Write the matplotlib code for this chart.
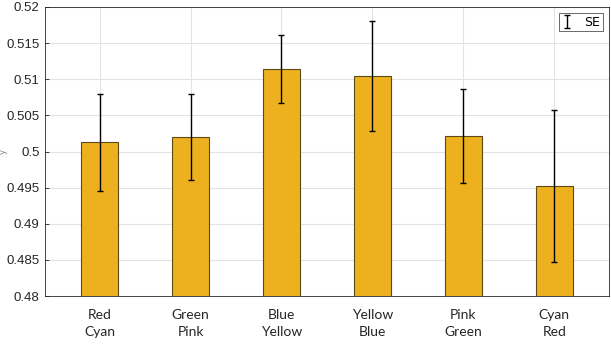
import matplotlib as mpl
mpl.use('Agg')
import matplotlib.pyplot as plt
import numpy as np

# data
labels = ['Red\nCyan', 'Green\nPink', 'Blue\nYellow', 'Yellow\nBlue', 'Pink\nGreen', 'Cyan\nRed']
means = [0.5013, 0.5020, 0.5114, 0.5104, 0.5022, 0.4952]
se = [0.0067, 0.0060, 0.0047, 0.0076, 0.0065, 0.0105]
yticks = [0.48, 0.485, 0.49, 0.495, 0.5, 0.505, 0.51, 0.515, 0.52]

bar_color = '#EDB120'
axis_color = '#262626'

fig = plt.figure(figsize=(6.11, 3.5), dpi=100)
ax = fig.add_axes([0.0736, 0.154, 0.923, 0.826])

x = np.arange(1, len(means) + 1)
ax.bar(x, means, width=0.4, color=bar_color, edgecolor='#5c4a16', linewidth=0.8, zorder=2)
eb = ax.errorbar(x, means, yerr=se, fmt='none', ecolor='black', elinewidth=1.0,
                 capsize=2, capthick=1.0, zorder=3, label='SE')

ax.set_xlim(0.4, 6.6)
ax.set_ylim(0.48, 0.52)
ax.set_xticks(x)
ax.set_xticklabels(labels, family=['Lato', 'DejaVu Sans'], fontsize=10, color='#262626',
                   linespacing=1.55)
ax.set_yticks(yticks)
ax.set_yticklabels(['%g' % v for v in yticks], family='Liberation Sans', fontsize=9.5, color='#262626')

ax.grid(True, color='#e3e3e3', linewidth=0.8, zorder=0)
ax.set_axisbelow(True)
ax.tick_params(direction='in', length=3, width=0.6, colors=axis_color, pad=4)
ax.tick_params(axis='x', length=0, pad=9)
for s in ax.spines.values():
    s.set_color(axis_color)
    s.set_linewidth(0.6)

ax.set_ylabel('y', fontsize=6, color='#888888')
ax.yaxis.set_label_coords(-0.066, 0.5)

leg = ax.legend(handles=[eb], loc='upper right', fontsize=9, frameon=True, fancybox=False,
                handlelength=0.9, handletextpad=0.9, borderpad=0.2, borderaxespad=0.5)
leg.get_frame().set_edgecolor('#262626')
leg.get_frame().set_linewidth(0.6)

fig.savefig('out.png', dpi=100)
